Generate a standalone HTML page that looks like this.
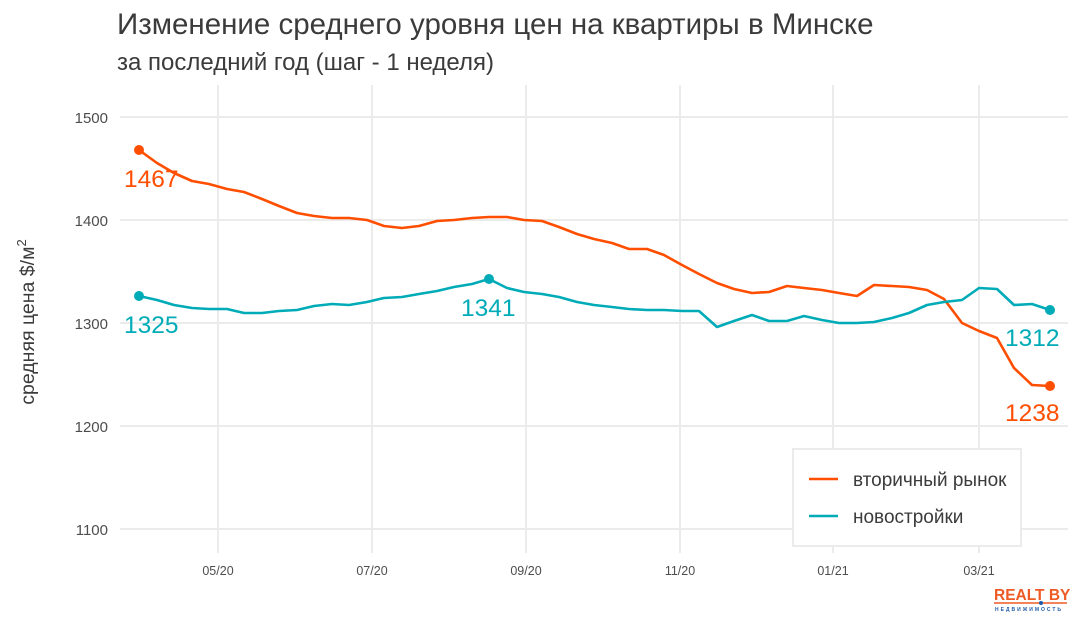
<!DOCTYPE html>
<html><head><meta charset="utf-8"><style>
body{margin:0;background:#fff;}
svg{display:block;font-family:"Liberation Sans","DejaVu Sans",sans-serif;}
</style></head><body>
<svg width="1080" height="617" viewBox="0 0 1080 617">
<rect width="1080" height="617" fill="#fff"/>
<text x="117" y="34" font-size="29.5" fill="#3b3b3b">Изменение среднего уровня цен на квартиры в Минске</text>
<text x="117" y="70" font-size="24" fill="#3b3b3b">за последний год (шаг - 1 неделя)</text>
<g stroke="#ebebeb" stroke-width="2">
<line x1="120" x2="1068" y1="117" y2="117"/>
<line x1="120" x2="1068" y1="220" y2="220"/>
<line x1="120" x2="1068" y1="323" y2="323"/>
<line x1="120" x2="1068" y1="426" y2="426"/>
<line x1="120" x2="1068" y1="529" y2="529"/>
<line x1="218" x2="218" y1="85" y2="553"/>
<line x1="372" x2="372" y1="85" y2="553"/>
<line x1="526" x2="526" y1="85" y2="553"/>
<line x1="680" x2="680" y1="85" y2="553"/>
<line x1="833" x2="833" y1="85" y2="553"/>
<line x1="979" x2="979" y1="85" y2="553"/>
</g>
<g font-size="15" fill="#4d4d4d" text-anchor="end">
<text x="108" y="123">1500</text><text x="108" y="226">1400</text><text x="108" y="329">1300</text><text x="108" y="432">1200</text><text x="108" y="535">1100</text>
</g>
<g font-size="12.5" fill="#4d4d4d" text-anchor="middle">
<text x="218" y="575">05/20</text><text x="372" y="575">07/20</text><text x="526" y="575">09/20</text><text x="680" y="575">11/20</text><text x="833" y="575">01/21</text><text x="979" y="575">03/21</text>
</g>
<text transform="translate(34,322) rotate(-90)" font-size="19.5" fill="#3b3b3b" text-anchor="middle">средняя цена $/м<tspan font-size="13" dy="-8">2</tspan></text>
<polyline fill="none" stroke="#ff4e00" stroke-width="2.6" stroke-linejoin="round" points="139,150 157,163 174,173 192,181 209,184 227,189 244,192 262,199 279,206 297,213 314,216 332,218 349,218 367,220 384,226 402,228 419,226 437,221 454,220 472,218 489,217 507,217 524,220 542,221 559,227 577,234 594,239 612,243 629,249 647,249 664,255 682,265 699,274 717,283 734,289 752,293 769,292 787,286 804,288 822,290 839,293 857,296 874,285 892,286 909,287 927,290 944,299 962,323 979,331 997,338 1014,368 1032,385 1050,386"/>
<polyline fill="none" stroke="#00abb8" stroke-width="2.6" stroke-linejoin="round" points="139,296 157,300 174,305 192,308 209,309 227,309 244,313 262,313 279,311 297,310 314,306 332,304 349,305 367,302 384,298 402,297 419,294 437,291 454,287 472,284 489,279 507,288 524,292 542,294 559,297 577,302 594,305 612,307 629,309 647,310 664,310 682,311 699,311 717,327 734,321 752,315 769,321 787,321 804,316 822,320 839,323 857,323 874,322 892,318 909,313 927,305 944,302 962,300 979,288 997,289 1014,305 1032,304 1050,310"/>
<circle cx="139" cy="150" r="5" fill="#ff4e00"/><circle cx="1050" cy="386" r="5" fill="#ff4e00"/>
<circle cx="139" cy="296" r="5" fill="#00abb8"/><circle cx="489" cy="279" r="5" fill="#00abb8"/><circle cx="1050" cy="310" r="5" fill="#00abb8"/>
<g font-size="24.5">
<text x="124" y="187" fill="#ff4e00">1467</text>
<text x="1005" y="421" fill="#ff4e00">1238</text>
<text x="124" y="333" fill="#00abb8">1325</text>
<text x="461" y="316" fill="#00abb8">1341</text>
<text x="1005" y="346" fill="#00abb8">1312</text>
</g>
<rect x="793" y="449" width="228" height="97" fill="#fff" stroke="#ebebeb" stroke-width="2"/>
<line x1="809" x2="838" y1="479" y2="479" stroke="#ff4e00" stroke-width="2.6"/>
<line x1="809" x2="838" y1="516" y2="516" stroke="#00abb8" stroke-width="2.6"/>
<text x="853" y="486" font-size="19" fill="#3b3b3b">вторичный рынок</text>
<text x="853" y="523" font-size="19" fill="#3b3b3b">новостройки</text>
<text x="994" y="600" font-size="15.5" font-weight="bold" fill="#ee5a24">REALT BY</text>
<line x1="994" x2="1067" y1="603" y2="603" stroke="#ee5a24" stroke-width="1.5"/>
<circle cx="1041" cy="603" r="2" fill="#1e5aa8"/>
<text x="995" y="611" font-size="5" font-weight="bold" fill="#1e5aa8" letter-spacing="2">НЕДВИЖИМОСТЬ</text>
</svg>
</body></html>
